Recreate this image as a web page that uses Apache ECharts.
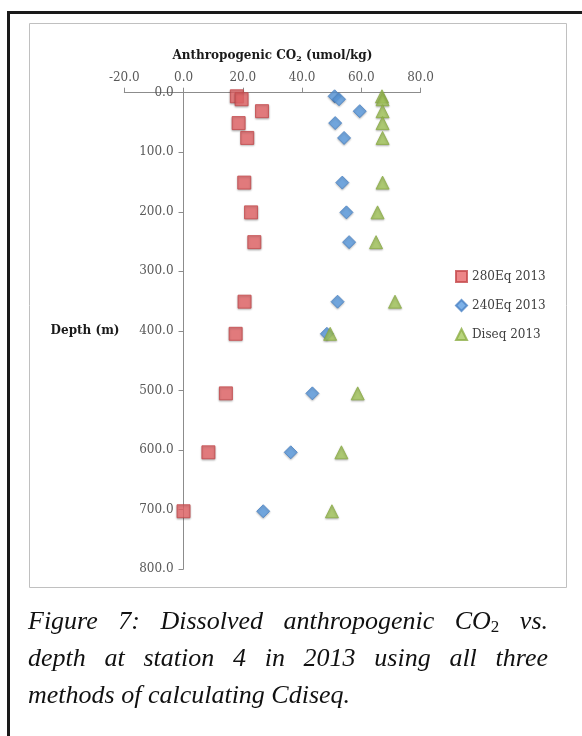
<!DOCTYPE html>
<html>
<head>
<meta charset="utf-8">
<script src="https://cdn.jsdelivr.net/npm/echarts@6/dist/echarts.min.js"></script>
<style>
html,body{margin:0;padding:0;background:#fff;}
#chart{width:582px;height:736px;}
</style>
</head>
<body>
<div id="chart"></div>
<script>
// ---- data ----
const depths = [6, 11, 31, 51, 76, 151, 201, 251, 351, 405, 505, 604, 703];
const eq280 = [18.0, 19.6, 26.5, 18.6, 21.5, 20.5, 22.8, 23.9, 20.6, 17.6, 14.3, 8.4, 0.0];
const eq240 = [51.0, 52.5, 59.5, 51.2, 54.2, 53.6, 55.0, 55.9, 52.0, 48.4, 43.5, 36.2, 26.9];
const diseq = [67.0, 67.2, 67.2, 67.2, 67.2, 67.2, 65.5, 65.0, 71.4, 49.5, 58.8, 53.3, 50.1];
const seriesNames = ['280Eq 2013', '240Eq 2013', 'Diseq 2013'];
const xTitle = 'Anthropogenic CO';
const yTitle = 'Depth (m)';
const captionLines = [
  ['Figure', '7:', 'Dissolved', 'anthropogenic', 'CO₂', 'vs.'],
  ['depth', 'at', 'station', '4', 'in', '2013', 'using', 'all', 'three'],
  ['methods', 'of', 'calculating', 'Cdiseq.']
];
const xMin = -20, xMax = 80;

const pairs = arr => arr.map((v, i) => [v, depths[i]]);

const SERIF = "'DejaVu Serif', serif";
const CAP_FONT = "'Liberation Serif', 'Times New Roman', serif";
const capSize = 26;
const capLeft = 28, capRight = 548;
const capY = [625, 662, 699];

// grid geometry
const gLeft = 124.3, gRightEdge = 420.5, gTop = 92.7, gBottom = 569;
const gWidth = gRightEdge - gLeft;
// y axis sits at x = 0 of the horizontal scale
const yAxisShift = (0 - xMin) / (xMax - xMin) * gWidth;

// caption layout (justified) built from measured word widths
const cv = document.createElement('canvas').getContext('2d');
function wordWidth(w) {
  if (w === 'CO₂') {
    cv.font = 'italic ' + capSize + 'px ' + CAP_FONT;
    const a = cv.measureText('CO').width;
    cv.font = 'italic ' + Math.round(capSize * 0.65) + 'px ' + CAP_FONT;
    return a + cv.measureText('2').width;
  }
  cv.font = 'italic ' + capSize + 'px ' + CAP_FONT;
  return cv.measureText(w).width;
}
const captionEls = [];
captionLines.forEach((words, li) => {
  const widths = words.map(wordWidth);
  const total = widths.reduce((a, b) => a + b, 0);
  const last = li === captionLines.length - 1;
  cv.font = 'italic ' + capSize + 'px ' + CAP_FONT;
  const space = cv.measureText(' ').width;
  const gap = last ? space : (capRight - capLeft - total) / (words.length - 1);
  let x = capLeft;
  words.forEach((w, wi) => {
    const isCO = w === 'CO₂';
    captionEls.push({
      type: 'text', left: x, top: capY[li] - 16,
      style: {
        text: isCO ? '{a|CO}{s|2}' : w,
        font: 'italic ' + capSize + 'px ' + CAP_FONT,
        fill: '#111',
        rich: isCO ? {
          a: {fontFamily: CAP_FONT, fontStyle: 'italic', fontSize: capSize, color: '#111'},
          s: {fontFamily: CAP_FONT, fontStyle: 'normal', fontSize: Math.round(capSize * 0.65), color: '#111', padding: [12, 0, 0, 0]}
        } : undefined
      }
    });
    x += widths[wi] + gap;
  });
});

const chart = echarts.init(document.getElementById('chart'), null, {renderer: 'canvas'});
const mkSeries = (name, data, symbol, size, fill, border) => ({
  name, type: 'scatter', data: pairs(data), symbol, symbolSize: size,
  itemStyle: {color: fill, borderColor: border, borderWidth: 1, shadowBlur: 2, shadowColor: 'rgba(0,0,0,0.3)', shadowOffsetY: 1},
  z: 3
});

chart.setOption({
  animation: false,
  backgroundColor: '#fff',
  grid: {left: gLeft, width: gWidth, top: gTop, height: gBottom - gTop, containLabel: false, outerBoundsMode: 'none'},
  xAxis: {
    type: 'value', position: 'top', min: xMin, max: xMax, interval: 20,
    axisLine: {onZero: false, lineStyle: {color: '#8c8c8c', width: 1}},
    axisTick: {show: true, inside: false, length: 5, lineStyle: {color: '#8c8c8c'}},
    axisLabel: {formatter: v => v.toFixed(1), color: '#595959', fontFamily: SERIF, fontSize: 12, margin: 9},
    splitLine: {show: false},
    name: '{t|' + xTitle + '}{s|2}{t| (umol/kg)}',
    nameLocation: 'middle', nameGap: 30,
    nameTextStyle: {
      rich: {
        t: {fontFamily: SERIF, fontWeight: 'bold', fontSize: 12, color: '#1a1a1a'},
        s: {fontFamily: SERIF, fontWeight: 'bold', fontSize: 8, color: '#1a1a1a', padding: [6, 0, 0, 0]}
      }
    }
  },
  yAxis: {
    type: 'value', inverse: true, min: 0, max: 800, interval: 100,
    position: 'left', offset: -yAxisShift,
    axisLine: {show: true, onZero: false, lineStyle: {color: '#8c8c8c', width: 1}},
    axisTick: {show: true, length: 5, lineStyle: {color: '#8c8c8c'}},
    axisLabel: {formatter: v => v.toFixed(1), color: '#595959', fontFamily: SERIF, fontSize: 12, margin: 10},
    splitLine: {show: false},
    name: yTitle, nameLocation: 'middle', nameRotate: 0, nameGap: 64,
    nameTextStyle: {fontFamily: SERIF, fontWeight: 'bold', fontSize: 12, color: '#1a1a1a', align: 'right'}
  },
  legend: {
    orient: 'vertical', left: 455, top: 270, padding: 0, itemGap: 16,
    itemWidth: 11, itemHeight: 11,
    textStyle: {fontFamily: SERIF, fontSize: 12, color: '#404040'},
    data: [
      {name: seriesNames[0], icon: 'rect'},
      {name: seriesNames[1], icon: 'diamond'},
      {name: seriesNames[2], icon: 'triangle'}
    ]
  },
  series: [
    mkSeries(seriesNames[0], eq280, 'rect', 13, '#e8686a', '#c4494b'),
    mkSeries(seriesNames[1], eq240, 'diamond', 13, '#5d9de2', '#4a82c4'),
    mkSeries(seriesNames[2], diseq, 'triangle', 13, '#a6c95c', '#8cae45')
  ],
  graphic: [
    {type: 'rect', shape: {x: 8.5, y: 12.5, width: 620, height: 760}, style: {fill: 'none', stroke: '#1a1a1a', lineWidth: 3}, z: -10},
    {type: 'rect', shape: {x: 29.5, y: 23.5, width: 537, height: 564}, style: {fill: 'none', stroke: '#c0c0c0', lineWidth: 1}, z: -9}
  ].concat(captionEls)
});
</script>
</body>
</html>
